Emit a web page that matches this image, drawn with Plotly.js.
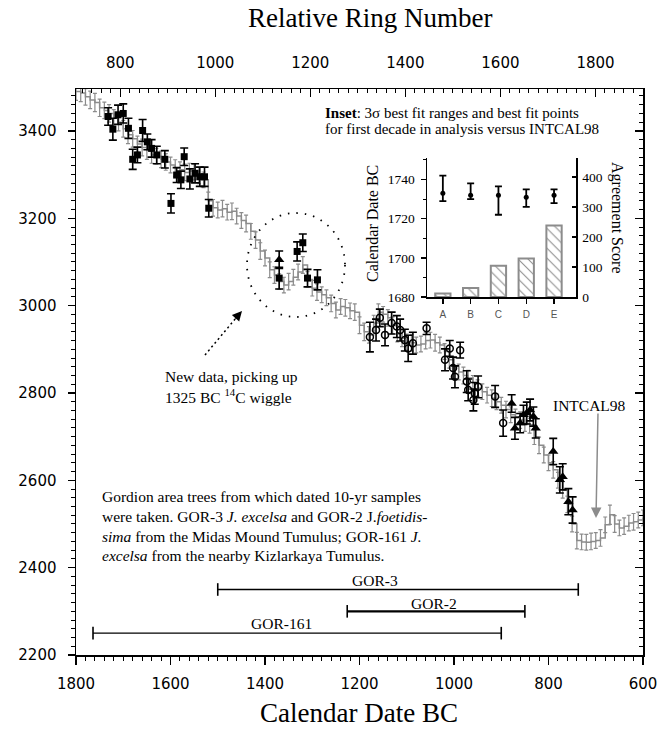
<!DOCTYPE html>
<html><head><meta charset="utf-8">
<script src="https://cdn.plot.ly/plotly-3.0.1.min.js"></script>
<style>html,body{margin:0;padding:0;background:#fff}#chart{width:660px;height:729px}</style>
</head><body><div id="chart"></div>
<script>
// ---------- DATA ----------
// INTCAL98 decadal calibration curve (calendar date BC, 14C age BP, 1 sigma)
const intcalYearBC = [
1800,1790,1780,1770,1760,1750,1740,1730,1720,1710,
1700,1690,1680,1670,1660,1650,1640,1630,1620,1610,
1600,1590,1580,1570,1560,1550,1540,1530,1520,1510,
1500,1490,1480,1470,1460,1450,1440,1430,1420,1410,
1400,1390,1380,1370,1360,1350,1340,1330,1320,1310,
1300,1290,1280,1270,1260,1250,1240,1230,1220,1210,
1200,1190,1180,1170,1160,1150,1140,1130,1120,1110,
1100,1090,1080,1070,1060,1050,1040,1030,1020,1010,
1000,990,980,970,960,950,940,930,920,910,
900,890,880,870,860,850,840,830,820,810,
800,790,780,770,760,750,740,730,720,710,
700,690,680,670,660,650,640,630,620,610,
600];
const intcalAge = [
3490,3487,3478,3471,3465,3453,3447,3440,3430,3420,
3405,3391,3382,3370,3362,3355,3345,3342,3335,3329,
3322,3315,3311,3305,3308,3306,3298,3288,3240,3224,
3219,3222,3214,3216,3205,3195,3188,3170,3150,3125,
3109,3082,3070,3055,3047,3055,3065,3077,3093,3060,
3040,3031,3025,3018,3005,2990,2998,2995,2988,2985,
2955,2940,2933,2960,2985,2980,2972,2955,2935,2925,
2917,2915,2910,2912,2920,2921,2915,2910,2895,2876,
2862,2848,2840,2834,2822,2811,2803,2795,2788,2780,
2772,2762,2750,2745,2738,2730,2727,2700,2680,2658,
2640,2624,2600,2578,2545,2500,2462,2459,2458,2460,
2462,2468,2498,2521,2500,2491,2495,2502,2505,2509,
2514];
const intcalErr = [
20,20,19,20,21,20,19,20,19,20,
19,20,19,18,19,20,19,18,19,19,
18,19,18,19,18,18,19,18,20,19,
18,19,18,19,18,18,19,18,19,19,
18,18,19,18,18,19,18,18,19,18,
18,19,18,18,19,18,18,19,18,19,
19,20,19,18,19,18,19,19,18,19,
18,19,18,18,19,18,19,18,18,19,
18,18,19,18,18,19,18,18,19,18,
18,19,18,18,19,18,19,18,19,18,
18,19,18,19,19,18,19,18,18,19,
18,19,18,22,19,18,19,18,19,18,
18];

// Gordion samples (filled squares, open circles, filled triangles)
const sqYearBC = [1732,1722,1711,1700,1689,1680,1670,1659,1649,1640,1629,1612,1599,1587,1578,1571,1559,1548,1538,1528,1519,1370,1332,1320,1310,1289];
const sqAge    = [3433,3404,3437,3440,3406,3335,3345,3401,3375,3360,3345,3335,3234,3299,3288,3341,3290,3303,3295,3295,3223,3063,3124,3144,3063,3059];
const sqErr    = [20,25,22,22,23,23,18,25,18,20,20,20,22,17,20,20,23,22,22,22,20,25,22,20,20,23];

const circYearBC = [1178,1165,1157,1146,1132,1121,1114,1104,1097,1087,1058,1019,1009,1002,998,987,973,970,959,956,949,913,896];
const circAge    = [2928,2944,2972,2933,2960,2952,2944,2921,2902,2914,2948,2876,2902,2857,2837,2898,2826,2807,2784,2799,2814,2792,2731];
const circErr    = [34,25,20,25,25,25,25,25,30,25,14,25,18,25,25,18,25,25,25,25,25,25,30];

const triYearBC = [1370,878,871,860,853,846,839,832,827,790,776,770,758,749];
const triAge    = [3105,2776,2719,2731,2750,2754,2761,2746,2719,2666,2601,2608,2551,2532];
const triErr    = [20,20,25,22,22,25,25,22,22,30,30,30,30,30];

// Tree ranges (calendar date BC)
const treeNames = ['GOR-3','GOR-2','GOR-161'];
const treeStartBC = [1500,1226,1764];
const treeEndBC   = [737,850,900];

// Inset: best fit points, 3 sigma ranges and agreement scores
const insetCats = ['A','B','C','D','E'];
const insetBestBC = [1733,1732,1732,1731,1732];
const insetUpperBC = [1742,1738,1736.5,1735,1735];
const insetLowerBC = [1729,1730,1722,1726,1728];
const agreementScore = [12,30,104,128,238];

// Tick labels
const calTicks = [1800,1600,1400,1200,1000,800,600];
const ringTicks = [800,1000,1200,1400,1600,1800];
const insetDateTicks = [1680,1700,1720,1740];
const scoreTicks = [0,100,200,300,400];

// ---------- LAYOUT HELPERS ----------
const PL=76, PR=643, PT=89, PB=655;
const P = (px,py)=>({x:(px-PL)/(PR-PL), y:(PB-py)/(PB-PT)});
const treeRowLevel = [2350,2300,2250];
const treeLineWidth = [1.6,2.2,1.2];
const serif = 'Liberation Serif, Times New Roman, serif';
const sans = 'DejaVu Sans, Arial, sans-serif';
const gray = '#8c8c8c';

const traces = [];
traces.push({
  x: intcalYearBC, y: intcalAge, type:'scatter', mode:'lines',
  line:{shape:'hv', color:gray, width:1.5},
  error_y:{type:'data', array:intcalErr, color:gray, thickness:1.2, width:2},
  xaxis:'x', yaxis:'y', hoverinfo:'skip'
});
const errStyle = (arr)=>({type:'data', array:arr, color:'#000', thickness:1.6, width:4});
traces.push({x:sqYearBC, y:sqAge, type:'scatter', mode:'markers',
  marker:{symbol:'square', size:7, color:'#000'}, error_y:errStyle(sqErr)});
traces.push({x:circYearBC, y:circAge, type:'scatter', mode:'markers',
  marker:{symbol:'circle-open', size:7, color:'#000', line:{width:1.5, color:'#000'}}, error_y:errStyle(circErr)});
traces.push({x:triYearBC, y:triAge, type:'scatter', mode:'markers',
  marker:{symbol:'triangle-up', size:9, color:'#000'}, error_y:errStyle(triErr)});
// tree ranges
treeNames.forEach((n,i)=>{
  traces.push({x:[treeStartBC[i], treeEndBC[i]], y:[treeRowLevel[i], treeRowLevel[i]],
    type:'scatter', mode:'lines+markers', line:{color:'#000', width:treeLineWidth[i]},
    marker:{symbol:'line-ns-open', size:9, line:{width:1.6, color:'#000'}}, hoverinfo:'skip'});
});
// dummy traces to activate top / right axes
traces.push({x:[], y:[], xaxis:'x2', yaxis:'y', type:'scatter'});
traces.push({x:[], y:[], xaxis:'x', yaxis:'y2', type:'scatter'});
// inset bars
traces.push({x:insetCats, y:agreementScore, type:'bar', xaxis:'x3', yaxis:'y4', width:0.55,
  marker:{color:'#fff', line:{color:gray, width:2},
    pattern:{shape:'\\', fgcolor:gray, bgcolor:'#fff', size:7, solidity:0.15}}});
// inset points
traces.push({x:insetCats, y:insetBestBC, type:'scatter', mode:'markers', xaxis:'x3', yaxis:'y3',
  marker:{symbol:'circle', size:5, color:'#000'},
  error_y:{type:'data', symmetric:false,
    array: insetUpperBC.map((u,i)=>u-insetBestBC[i]),
    arrayminus: insetLowerBC.map((l,i)=>insetBestBC[i]-l),
    color:'#000', thickness:1.8, width:3.5}});

const tickFont = {family:sans, size:15, color:'#000'};
const axBase = {showgrid:false, zeroline:false, showline:true, linecolor:'#000', linewidth:1.5, tickcolor:'#000', tickwidth:1.3};

const ann = [];
const addText = (px,py,text,opt={})=>{ const p=P(px,py); ann.push(Object.assign({xref:'paper', yref:'paper', x:p.x, y:p.y, text:text, showarrow:false, font:{family:serif, size:15.5, color:'#000'}, xanchor:'center', yanchor:'middle'}, opt)); };

addText(370,18,'Relative Ring Number',{font:{family:serif,size:27,color:'#000'}});
addText(359,713,'Calendar Date BC',{font:{family:serif,size:27,color:'#000'}});
addText(323,113,'<b>Inset</b>: 3σ best fit ranges and best fit points',{xanchor:'left', font:{family:serif,size:15,color:'#000'}});
addText(323,129,'for first decade in analysis versus INTCAL98',{xanchor:'left', font:{family:serif,size:15,color:'#000'}});
addText(372,224,'Calendar Date BC',{textangle:-90, font:{family:serif,size:16,color:'#000'}});
addText(617,218,'Agreement Score',{textangle:90, font:{family:serif,size:16,color:'#000'}});
addText(163,376,'New data, picking up',{xanchor:'left'});
addText(163,396,'1325 BC <sup>14</sup>C wiggle',{xanchor:'left'});
addText(589,405,'INTCAL98');
addText(100,496,'Gordion area trees from which dated 10-yr samples',{xanchor:'left'});
addText(100,516,'were taken. GOR-3 <i>J. excelsa</i> and GOR-2 J.<i>foetidis-</i>',{xanchor:'left'});
addText(100,536,'<i>sima</i> from the Midas Mound Tumulus; GOR-161 <i>J.</i>',{xanchor:'left'});
addText(100,555,'<i>excelsa</i> from the nearby Kizlarkaya Tumulus.',{xanchor:'left'});
const treeLabelPx = [[375,580],[434,603],[281,623]];
treeNames.forEach((n,i)=>addText(treeLabelPx[i][0], treeLabelPx[i][1], n));
// arrows
const hIn = P(596,518);
ann.push({xref:'paper', yref:'paper', x:hIn.x, y:hIn.y, ax:2, ay:-106, text:'', showarrow:true,
  arrowhead:2, arrowsize:1.4, arrowwidth:1.5, arrowcolor:gray, standoff:0});
const hNew = P(242,311);
ann.push({xref:'paper', yref:'paper', x:hNew.x, y:hNew.y, ax:-8, ay:9, text:'', showarrow:true,
  arrowhead:2, arrowsize:1.3, arrowwidth:1.5, arrowcolor:'#000', standoff:0});

const t0=P(205,355), t1=P(236,318);
const c0=P(247,317), c1=P(345,213);
const shapes = [
  {type:'line', xref:'paper', yref:'paper', x0:t0.x, y0:t0.y, x1:t1.x, y1:t1.y, line:{color:'#000', width:1.5, dash:'2px,3px'}},
  {type:'circle', xref:'paper', yref:'paper', x0:c0.x, y0:c0.y, x1:c1.x, y1:c1.y, line:{color:'#000', width:1.8, dash:'1.5px,7px'}}
];

const insX0 = P(427,297), insX1 = P(576,158);

const layout = {
  width:660, height:729, margin:{l:PL, r:660-PR, t:PT, b:729-PB},
  paper_bgcolor:'#fff', plot_bgcolor:'rgba(0,0,0,0)', showlegend:false,
  xaxis: Object.assign({}, axBase, {range:[1800,600], tickmode:'array', tickvals:calTicks, ticks:'outside', ticklen:8,
    tickfont:tickFont, ticklabelstandoff:6, minor:{tick0:600, dtick:20, ticks:'outside', ticklen:4, tickcolor:'#000', tickwidth:1}}),
  yaxis: Object.assign({}, axBase, {range:[2200,3496], tick0:2200, dtick:200, ticks:'outside', ticklen:7,
    tickfont:tickFont, ticklabelstandoff:8, minor:{tick0:2200, dtick:20, ticks:'outside', ticklen:4, tickcolor:'#000', tickwidth:1}}),
  xaxis2: Object.assign({}, axBase, {overlaying:'x', side:'top', anchor:'y', range:[707,1900], tickmode:'array', tickvals:ringTicks,
    ticks:'inside', ticklen:8, tickfont:tickFont, ticklabelstandoff:14, minor:{tick0:800, dtick:20, ticks:'inside', ticklen:4, tickcolor:'#000', tickwidth:1}}),
  yaxis2: Object.assign({}, axBase, {overlaying:'y', side:'right', anchor:'x', range:[2200,3496], tick0:2200, dtick:200,
    ticks:'inside', ticklen:8, showticklabels:false, minor:{tick0:2200, dtick:20, ticks:'inside', ticklen:4, tickcolor:'#000', tickwidth:1}}),
  xaxis3: Object.assign({}, axBase, {domain:[insX0.x, insX1.x], anchor:'y3', type:'category', range:[-0.57,4.79],
    ticks:'outside', ticklen:5, tickfont:{family:'Liberation Sans, Arial, sans-serif', size:10, color:'#555'}, ticklabelstandoff:2}),
  yaxis3: Object.assign({}, axBase, {domain:[insX0.y, insX1.y], anchor:'x3', range:[1680,1751], tickmode:'array', tickvals:insetDateTicks,
    ticks:'outside', ticklen:5, tickfont:{family:serif, size:13.5, color:'#000'}, ticklabelstandoff:3,
    minor:{tick0:1680, dtick:10, ticks:'outside', ticklen:3, tickcolor:'#000', tickwidth:1}}),
  yaxis4: Object.assign({}, axBase, {overlaying:'y3', side:'right', anchor:'x3', range:[0,463], tickmode:'array', tickvals:scoreTicks,
    ticks:'inside', ticklen:4, tickfont:{family:serif, size:13.5, color:'#000'}, ticklabelstandoff:2}),
  annotations: ann, shapes: shapes
};

Plotly.newPlot('chart', traces, layout, {displayModeBar:false, staticPlot:true});
</script></body></html>
